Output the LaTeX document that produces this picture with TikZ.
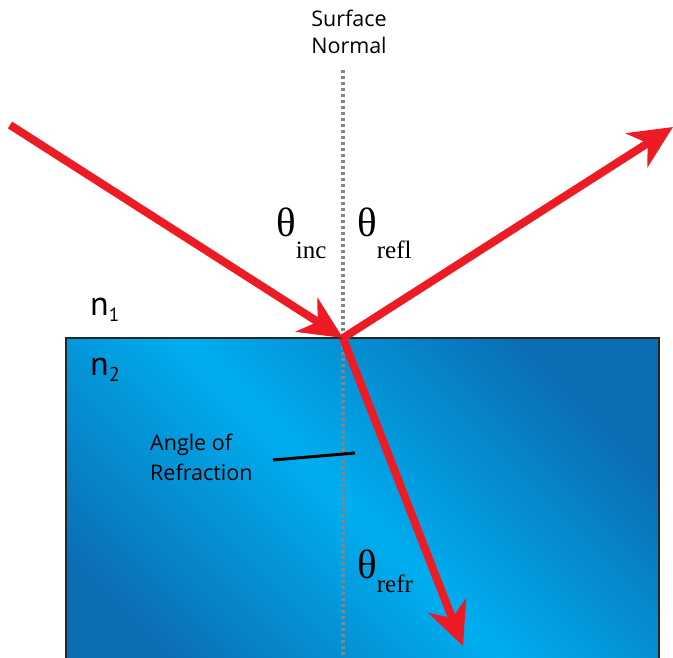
\documentclass[tikz,border=0pt]{standalone}
\usepackage{fontspec}
\setmainfont{Open Sans}
\newfontfamily\serifnum{Liberation Serif}
\newfontfamily\idxfont{PT Sans}
\usetikzlibrary{arrows.meta}
\definecolor{rayred}{HTML}{ED1C24}
\definecolor{bluedark}{HTML}{0B6DB4}
\definecolor{bluelight}{HTML}{00AEEF}
\definecolor{normalgray}{HTML}{858585}
\tikzset{
  ray/.style={draw=rayred, line width=8pt, -{Stealth[length=43pt,width=40pt,inset=13pt]}},
  lbl/.style={font=\fontsize{21.5}{29}\selectfont, inner sep=0pt},
  theta/.style={font=\serifnum\fontsize{41}{44}\selectfont, inner sep=0pt, anchor=base west},
  idx/.style={font=\idxfont\fontsize{34}{36}\selectfont, inner sep=0pt, anchor=base west},
}
\newcommand{\subsc}[2]{{\fontsize{25}{26}\selectfont\raisebox{-#1pt}{#2}}}
\begin{document}
\begin{tikzpicture}[x=1pt,y=-1pt]
\useasboundingbox (0,0) rectangle (673,657);
\clip (0,0) rectangle (673,657);
% medium block
\path[shade, left color=bluedark, right color=bluedark, middle color=bluelight, shading angle=135]
  (66,338) rectangle (659,700);
\draw[line width=1.5pt, draw=black!85] (66,700) -- (66,338) -- (659,338) -- (659,700);
% surface normal
\coordinate (ntop) at (343,70);
\coordinate (nbot) at (343,657);
\draw[normalgray, line width=3.5pt, dash pattern=on 3pt off 3pt] (ntop) -- (nbot);
% rays
\coordinate (O) at (343,338);
\coordinate (src) at (10,125);
\coordinate (refl) at (673,127);
\coordinate (refr) at (463,646);
\draw[ray] (O) -- (refl);
\draw[ray] (O) -- (refr);
\draw[ray] (src) -- (O);
% labels
\node[lbl, anchor=base] (sn1) at (349,26) {Surface};
\node[lbl, anchor=base] (sn2) at (349,53) {Normal};
\node[theta] (ti) at (276,236) {θ\subsc{22}{inc}};
\node[theta] (tr) at (357,236) {θ\subsc{22}{refl}};
\node[theta] (tf) at (357,578) {θ\subsc{14}{refr}};
\node[idx] (n1) at (90,315) {n\fontsize{19}{22}\selectfont\raisebox{-6pt}{1}};
\node[idx] (n2) at (90,375) {n\fontsize{20}{22}\selectfont\raisebox{-6pt}{2}};
\node[lbl, anchor=base west] (aor1) at (150,450) {Angle of};
\node[lbl, anchor=base west] (aor2) at (150,480) {Refraction};
\coordinate (ptr) at (355,453);
\coordinate (ptrs) at (273,460);
\draw[line width=3pt] (ptrs) -- (ptr);
\end{tikzpicture}
\end{document}
